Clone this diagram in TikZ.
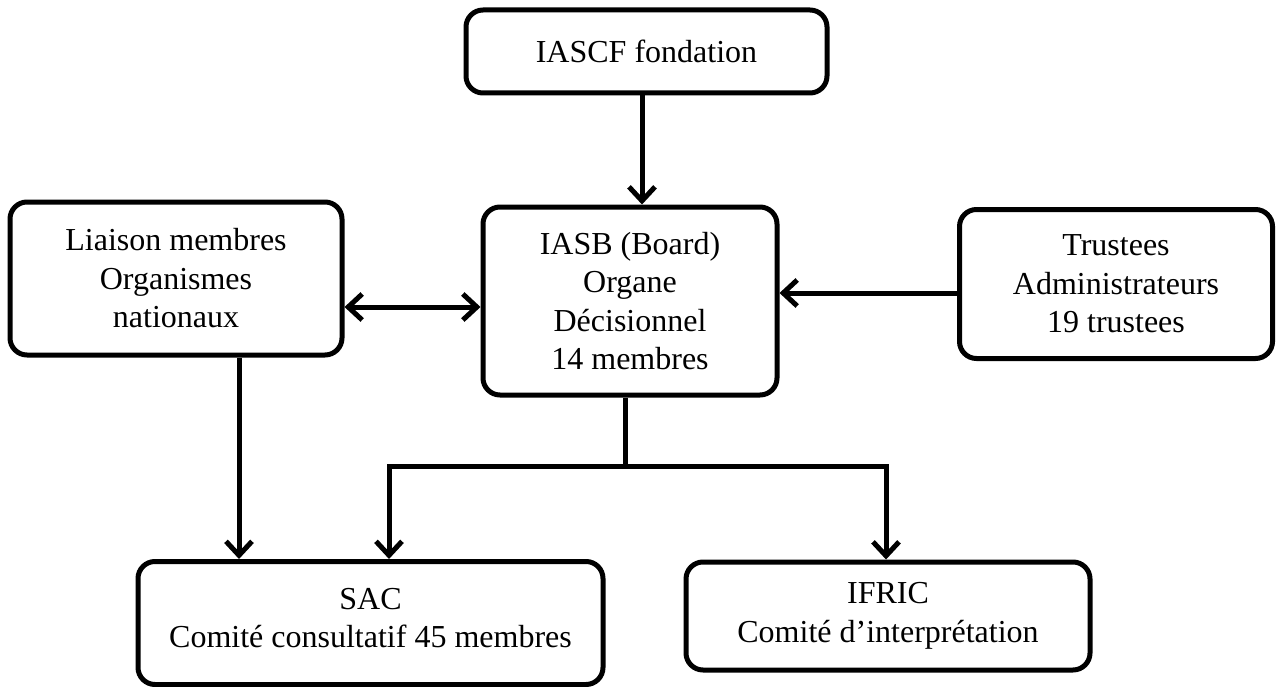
\documentclass[tikz,border=0pt]{standalone}
\usepackage{fontspec}
\setmainfont{Liberation Serif}
\usetikzlibrary{arrows.meta}
\begin{document}
\begin{tikzpicture}[x=1pt,y=-1pt,
  box/.style={draw=black, line width=5pt, rounded corners=17pt, align=center,
    inner sep=0pt, font=\fontsize{32}{38.5}\selectfont},
  conn/.style={line width=5pt, draw=black},
  tip/.style={},
  arr/.style={conn, -{Straight Barb[length=14pt,width=26pt,line width=5pt]}},
  darr/.style={conn, {Straight Barb[length=14pt,width=26pt,line width=5pt]}-{Straight Barb[length=14pt,width=26pt,line width=5pt]}}]
\useasboundingbox (0,0) rectangle (1276,687);
\node[box, minimum width=361pt, minimum height=83pt] (iascf) at (646.5,51.5) {IASCF fondation};
\node[box, minimum width=294pt, minimum height=188pt] (iasb) at (630,301) {IASB (Board)\\Organe\\Décisionnel\\14 membres};
\node[box, minimum width=332pt, minimum height=153pt] (liaison) at (176,278.5) {Liaison membres\\Organismes\\nationaux};
\node[box, minimum width=313pt, minimum height=149pt] (trustees) at (1116,284) {Trustees\\Administrateurs\\19 trustees};
\node[box, minimum width=465pt, minimum height=123pt] (sac) at (370.5,623) {};
\node[align=center, inner sep=0pt, font=\fontsize{32}{38.5}\selectfont] (sactext) at (370.5,618) {SAC\\Comité consultatif 45 membres};
\node[box, minimum width=404pt, minimum height=108pt] (ifric) at (888,616) {IFRIC\\Comité d’interprétation};
\coordinate (cx1) at (642,0);
\coordinate (cy1) at (0,307);
\coordinate (cy2) at (0,293);
\coordinate (cx2) at (239,0);
\coordinate (cx3) at (625,0);
\coordinate (cx4) at (389,0);
\coordinate (cx5) at (886,0);
\coordinate (cy3) at (0,466);
\draw[arr] (iascf.south -| cx1) -- (iasb.north -| cx1);
\draw[darr] (liaison.east |- cy1) -- (iasb.west |- cy1);
\draw[arr] (trustees.west |- cy2) -- (iasb.east |- cy2);
\draw[arr] (liaison.south -| cx2) -- (sac.north -| cx2);
\coordinate (j) at (cx3 |- cy3);
\draw[conn] (iasb.south -| cx3) -- (j);
\draw[arr, line join=miter] (j) -- (cx4 |- cy3) -- (sac.north -| cx4);
\draw[arr, line join=miter] (j) -- (cx5 |- cy3) -- (ifric.north -| cx5);
\end{tikzpicture}
\end{document}
